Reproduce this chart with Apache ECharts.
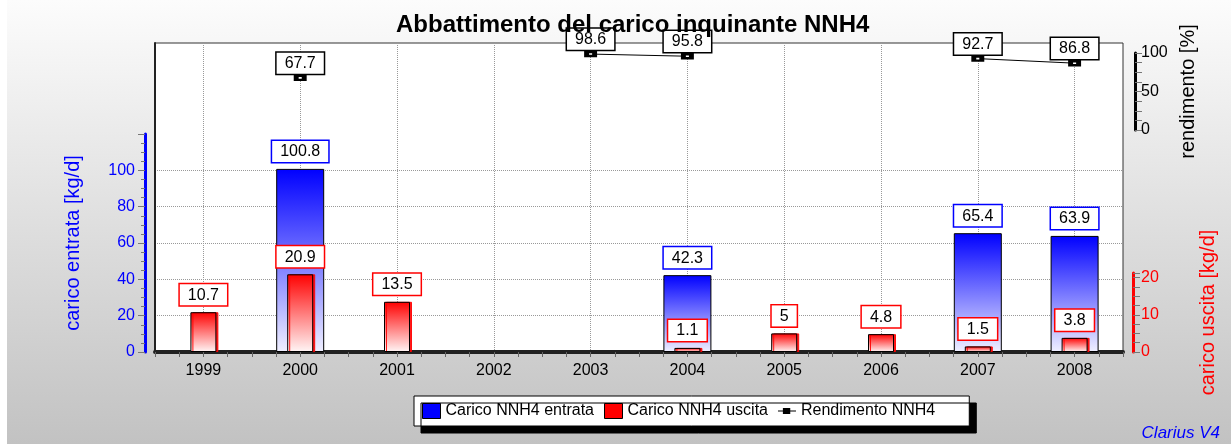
<!DOCTYPE html>
<html>
  <head>
    <meta charset="utf-8" />
    <title>Abbattimento del carico inquinante NNH4</title>
    <script src="https://cdn.jsdelivr.net/npm/echarts@6.0.0/dist/echarts.min.js"></script>
    <style>
      html, body { margin: 0; padding: 0; background: #fff; }
      #chart { width: 1231px; height: 444px; }
    </style>
  </head>
  <body>
    <div id="chart"></div>
    <script type="text/javascript">
      const years = ['1999', '2000', '2001', '2002', '2003', '2004', '2005', '2006', '2007', '2008'];
      const caricoEntrata = ['-', 100.8, '-', '-', '-', 42.3, '-', '-', 65.4, 63.9];
      const caricoUscita = [10.7, 20.9, 13.5, '-', '-', 1.1, 5, 4.8, 1.5, 3.8];
      const rendimento = ['-', 67.7, '-', '-', 98.6, 95.8, '-', '-', 92.7, 86.8];

      const seriesNames = ['Carico NNH4 entrata', 'Carico NNH4 uscita', 'Rendimento NNH4'];
      const axisNames = ['carico entrata [kg/d]', 'carico uscita [kg/d]', 'rendimento [%]'];

      const FONT = 'Liberation Sans, Arial, Helvetica, sans-serif';
      const chart = echarts.init(document.getElementById('chart'));

      // all grids share the same horizontal extent, they only differ in height
      function plotGrid(top, extra) {
        return Object.assign({ left: 155, right: 108, top: top, bottom: 92 }, extra || {});
      }
      function hiddenCat(gridIndex) {
        return { type: 'category', gridIndex: gridIndex, data: years, show: false };
      }
      function boxLabel(border, pos, dist) {
        return {
          show: true,
          position: pos,
          distance: dist,
          color: '#000',
          fontFamily: FONT,
          fontSize: 16,
          lineHeight: 16,
          backgroundColor: '#fff',
          borderColor: border,
          borderWidth: 1.5,
          padding: [3, 8, 2, 8]
        };
      }
      const greyTick = { show: true, length: 7, lineStyle: { color: '#777', width: 1 } };

      const option = {
        animation: false,
        backgroundColor: new echarts.graphic.LinearGradient(0, 0, 0, 1, [
          { offset: 0, color: '#fcfcfc' },
          { offset: 1, color: '#c2c2c2' }
        ]),
        graphic: [
          { type: 'rect', left: 0, top: 0, shape: { width: 7, height: 444 }, style: { fill: '#fff' }, z: -1 }
        ],
        title: [
          {
            text: 'Abbattimento del carico inquinante NNH4',
            left: 391,
            top: 8,
            textStyle: { fontFamily: FONT, fontSize: 24, fontWeight: 'bold', color: '#000' }
          },
          {
            text: 'Clarius V4',
            right: 6,
            bottom: -3,
            textStyle: { fontFamily: FONT, fontSize: 17, fontStyle: 'italic', fontWeight: 'normal', color: '#0000ff' }
          }
        ],
        legend: {
          left: 414,
          top: 396,
          orient: 'horizontal',
          padding: [7, 34, 7, 8],
          itemGap: 10,
          itemWidth: 18,
          itemHeight: 15,
          backgroundColor: '#fff',
          borderColor: '#000',
          borderWidth: 1,
          shadowColor: '#000',
          shadowBlur: 0,
          shadowOffsetX: 7,
          shadowOffsetY: 7,
          textStyle: { fontFamily: FONT, fontSize: 16, color: '#000' },
          data: [
            { name: seriesNames[0], icon: 'rect', itemStyle: { color: '#0000ff', borderColor: '#000', borderWidth: 1 } },
            { name: seriesNames[1], icon: 'rect', itemStyle: { color: '#ff0000', borderColor: '#000', borderWidth: 1 } },
            {
              name: seriesNames[2],
              icon: 'path://M0,7 L22,7 L22,8.5 L0,8.5 Z M6,4 L15,4 L15,11.5 L6,11.5 Z',
              itemStyle: { color: '#000', borderWidth: 0 }
            }
          ]
        },
        grid: [
          plotGrid(43, { show: true, backgroundColor: '#fff', borderColor: '#333', borderWidth: 1 }),
          plotGrid(134),
          plotGrid(273),
          { left: 155, right: 108, top: 53, bottom: 314 }
        ],
        xAxis: [
          {
            type: 'category',
            gridIndex: 0,
            data: years,
            axisLine: { show: true, lineStyle: { color: '#222', width: 1 } },
            axisTick: { show: false },
            axisLabel: { color: '#000', fontFamily: FONT, fontSize: 16, margin: 11 },
            splitLine: { show: true, alignWithLabel: true, lineStyle: { color: '#999', type: 'dotted', width: 1 } }
          },
          {
            // ruler ticks along the bottom of the plot
            type: 'value',
            gridIndex: 0,
            min: 0,
            max: 40,
            interval: 1,
            position: 'bottom',
            axisLine: { show: true, lineStyle: { color: '#222', width: 4, type: [2, 1] } },
            axisTick: { show: true, length: 5, lineStyle: { color: '#666' } },
            axisLabel: { show: false },
            splitLine: { show: false }
          },
          hiddenCat(1),
          hiddenCat(2),
          hiddenCat(3)
        ],
        yAxis: [
          {
            type: 'value',
            gridIndex: 0,
            axisLine: { show: true, lineStyle: { color: '#222', width: 2 } },
            axisTick: { show: false },
            axisLabel: { show: false },
            splitLine: { show: false }
          },
          {
            type: 'value',
            gridIndex: 1,
            min: 0,
            max: 120,
            interval: 20,
            position: 'left',
            offset: 10,
            name: axisNames[0],
            nameLocation: 'middle',
            nameGap: 62,
            nameTextStyle: { color: '#0000ff', fontFamily: FONT, fontSize: 20 },
            axisLine: { show: true, lineStyle: { color: '#0000ff', width: 3 } },
            axisTick: greyTick,
            minorTick: { show: true, splitNumber: 4, length: 4, lineStyle: { color: '#777' } },
            axisLabel: {
              color: '#0000ff', fontFamily: FONT, fontSize: 16, margin: 10,
              formatter: v => (v > 100 ? '' : v)
            },
            splitLine: {
              show: true, showMinLine: false, showMaxLine: false,
              lineStyle: { color: '#999', type: 'dotted', width: 1 }
            }
          },
          {
            type: 'value',
            gridIndex: 2,
            min: 0,
            max: 21.25,
            interval: 2.5,
            position: 'right',
            offset: 10,
            name: axisNames[1],
            nameLocation: 'middle',
            nameRotate: 90,
            nameGap: 65,
            nameTextStyle: { color: '#ff0000', fontFamily: FONT, fontSize: 20 },
            axisLine: { show: true, lineStyle: { color: '#ff0000', width: 3 } },
            axisTick: greyTick,
            axisLabel: {
              color: '#ff0000', fontFamily: FONT, fontSize: 16, margin: 8,
              formatter: v => (v % 10 === 0 ? v : '')
            },
            splitLine: { show: false }
          },
          {
            type: 'value',
            gridIndex: 3,
            min: 0,
            max: 100,
            interval: 12.5,
            position: 'right',
            offset: 12,
            name: axisNames[2],
            nameLocation: 'middle',
            nameRotate: 90,
            nameGap: 43,
            nameTextStyle: { color: '#000', fontFamily: FONT, fontSize: 20 },
            axisLine: { show: true, lineStyle: { color: '#000', width: 3 } },
            axisTick: greyTick,
            axisLabel: {
              color: '#000', fontFamily: FONT, fontSize: 16, margin: 6,
              formatter: v => (v % 50 === 0 ? v : '')
            },
            splitLine: { show: false }
          }
        ],
        series: [
          {
            name: seriesNames[0],
            type: 'bar',
            xAxisIndex: 2,
            yAxisIndex: 1,
            barWidth: 48,
            data: caricoEntrata,
            itemStyle: {
              color: new echarts.graphic.LinearGradient(0, 0, 0, 1, [
                { offset: 0, color: '#0000ff' },
                { offset: 1, color: '#f0f0ff' }
              ]),
              borderColor: '#000',
              borderWidth: 1
            },
            label: boxLabel('#0000ff', 'top', 7)
          },
          {
            name: seriesNames[1],
            type: 'bar',
            xAxisIndex: 3,
            yAxisIndex: 2,
            barWidth: 26,
            data: caricoUscita,
            itemStyle: {
              color: new echarts.graphic.LinearGradient(0, 0, 0, 1, [
                { offset: 0, color: '#ff0000' },
                { offset: 1, color: '#fff6f6' }
              ]),
              borderColor: '#000',
              borderWidth: 1,
              shadowColor: 'rgba(255,0,0,0.9)',
              shadowOffsetX: 2,
              shadowOffsetY: 0
            },
            label: boxLabel('#ff0000', 'top', 7)
          },
          {
            name: seriesNames[2],
            type: 'line',
            xAxisIndex: 4,
            yAxisIndex: 3,
            data: rendimento,
            connectNulls: false,
            symbol: 'rect',
            symbolSize: [8, 4],
            lineStyle: { color: '#000', width: 1 },
            itemStyle: { color: '#fff', borderColor: '#000', borderWidth: 3.5 },
            label: boxLabel('#000', 'top', 1),
            z: 5
          }
        ]
      };

      chart.setOption(option);
    </script>
  </body>
</html>
